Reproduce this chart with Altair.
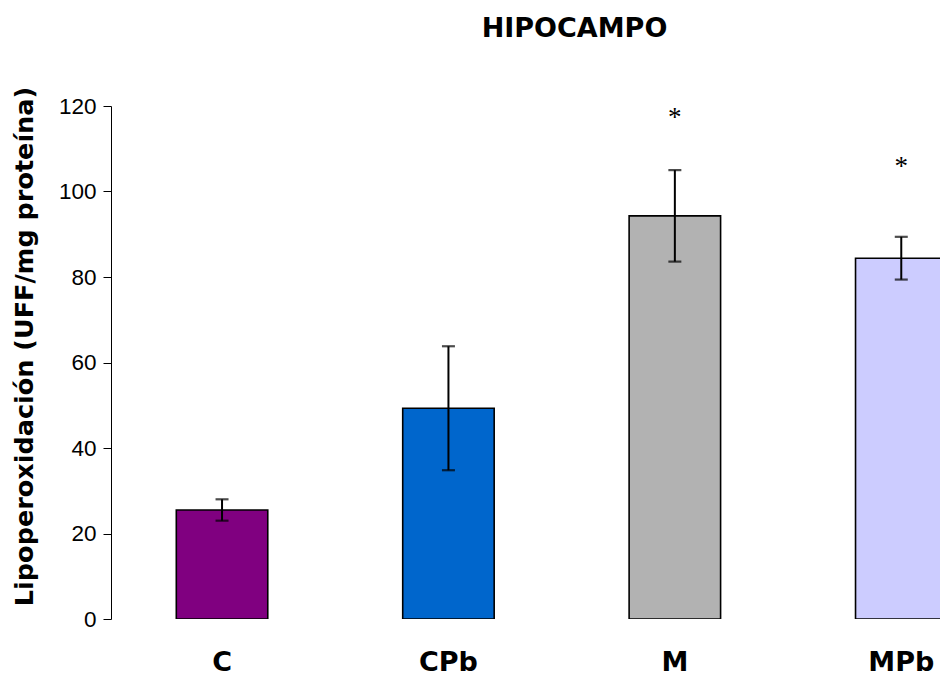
import altair as alt
import pandas as pd

groups = ["C", "CPb", "M", "MPb"]
means = [25.5, 49.3, 94.3, 84.4]
errs = [2.5, 14.5, 10.7, 5.0]
colors = ["#800080", "#0066CC", "#B2B2B2", "#CCCCFF"]
stars = ["", "", "*", "*"]
star_y = [None, None, 117.1, 105.8]

df = pd.DataFrame({
    "grupo": groups,
    "valor": means,
    "lo": [m - e for m, e in zip(means, errs)],
    "hi": [m + e for m, e in zip(means, errs)],
    "star": stars,
    "star_y": star_y,
})

x_scale = alt.Scale(domain=groups, range=[65.3, 836], paddingInner=0.596, paddingOuter=0)
y_scale = alt.Scale(domain=[0, 120], nice=False)

x_enc = alt.X("grupo:N", scale=x_scale, sort=groups,
              axis=alt.Axis(title=None, domain=False, ticks=False, tickSize=0,
                            labelAngle=0, labelFont="DejaVu Sans", labelFontSize=27,
                            labelFontWeight="bold", labelColor="black",
                            labelPadding=30, labelOverlap=False))

y_axis = alt.Axis(title="Lipoperoxidación (UFF/mg proteína)", values=[0, 20, 40, 60, 80, 100, 120],
                  grid=False, domainColor="black", domainWidth=1, tickColor="black",
                  tickSize=8, tickWidth=1, labelFont="Liberation Sans", labelFontSize=22.5,
                  labelColor="black", labelPadding=7,
                  titleFont="DejaVu Sans", titleFontSize=25.5, titleFontWeight="bold",
                  titleColor="black", titleX=-87, titleY=240, titleAngle=-90,
                  titleAlign="center", titleBaseline="middle")

bars = alt.Chart(df).mark_bar(stroke="black", strokeWidth=1.6, clip=True).encode(
    x=x_enc,
    y=alt.Y("valor:Q", scale=y_scale, axis=y_axis),
    color=alt.Color("grupo:N", scale=alt.Scale(domain=groups, range=colors), legend=None),
)

rules = alt.Chart(df).mark_rule(color="black", strokeWidth=2).encode(
    x=alt.X("grupo:N", scale=x_scale, sort=groups),
    y=alt.Y("lo:Q", scale=y_scale),
    y2="hi:Q",
)

caps_lo = alt.Chart(df).mark_tick(color="black", thickness=2.2, size=13, orient="horizontal").encode(
    x=alt.X("grupo:N", scale=x_scale, sort=groups),
    y=alt.Y("lo:Q", scale=y_scale),
)
caps_hi = alt.Chart(df).mark_tick(color="black", thickness=2.2, size=13, orient="horizontal").encode(
    x=alt.X("grupo:N", scale=x_scale, sort=groups),
    y=alt.Y("hi:Q", scale=y_scale),
)

star_text = alt.Chart(df).transform_filter("datum.star != ''").mark_text(
    font="Liberation Serif", fontSize=27, color="black", baseline="middle", align="center"
).encode(
    x=alt.X("grupo:N", scale=x_scale, sort=groups),
    y=alt.Y("star_y:Q", scale=y_scale),
    text="star:N",
)

chart = alt.layer(bars, rules, caps_lo, caps_hi, star_text).properties(
    width=829,
    height=513,
    background="white",
    title=alt.TitleParams("HIPOCAMPO", font="DejaVu Sans", fontSize=27, fontWeight="bold",
                          color="black", anchor="middle", frame="group", dx=49, offset=43),
    autosize=alt.AutoSizeParams(type="none"),
    padding={"left": 111, "top": 106, "right": 0, "bottom": 58},
).configure_view(stroke=None)

chart.save("out.html", embed_options={"renderer": "svg", "actions": False})
